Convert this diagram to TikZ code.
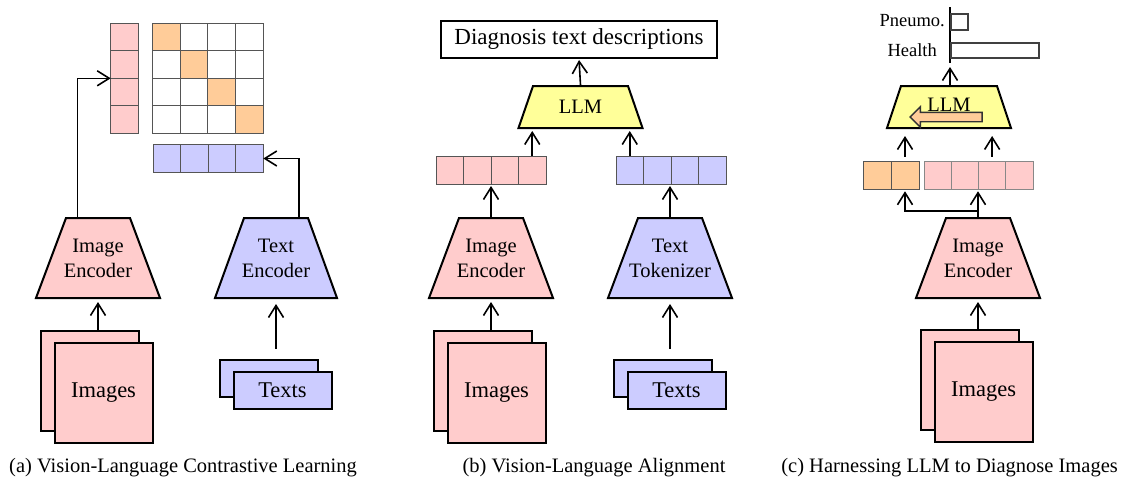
\documentclass[tikz,border=0pt]{standalone}
\usepackage{fontspec}
\setmainfont{Liberation Serif}
\usetikzlibrary{shapes.arrows,arrows.meta,calc}
\definecolor{pinkf}{HTML}{FFCCCC}
\definecolor{bluef}{HTML}{CCCCFF}
\definecolor{yellowf}{HTML}{FFFF99}
\definecolor{orangef}{HTML}{FFCC99}
\definecolor{cellline}{HTML}{555555}
% #1 name, #2 centre, #3 fill, #4 bottom width, #5 top width, #6 height, #7 font, #8 text
\newcommand\trapnode[8]{%
  \path #2 coordinate (#1-c);
  \draw[trapline, fill=#3] ($(#1-c)+(-#4/2,#6/2)$) -- ($(#1-c)+(-#5/2,-#6/2)$) -- ($(#1-c)+(#5/2,-#6/2)$) -- ($(#1-c)+(#4/2,#6/2)$) -- cycle;
  \node[align=center, minimum width=#5, minimum height=#6, inner sep=0pt, outer sep=1pt, font=#7] (#1) at (#1-c) {#8};
}
\begin{document}
\begin{tikzpicture}[x=1pt,y=-1pt,
  arr/.style={-{Straight Barb[length=12pt,width=15pt,line width=1.6pt]}, line width=1.6pt},
  trapline/.style={draw=black, line width=2pt, line join=miter},
  imgbox/.style={draw=black, line width=2pt, fill=pinkf, minimum width=98, minimum height=100, inner sep=0pt, font=\fontsize{22.5}{26}\selectfont},
  txtbox/.style={draw=black, line width=2pt, fill=bluef, minimum width=98, minimum height=37, inner sep=0pt, font=\fontsize{22.5}{26}\selectfont},
  cell/.style={draw=cellline, line width=1pt, minimum width=27.5, minimum height=27.5, inner sep=0pt, outer sep=0pt},
  bar/.style={draw=black!75, line width=1.5pt, fill=white, inner sep=0pt, anchor=west},
  caption/.style={font=\fontsize{20.5}{24}\selectfont, inner sep=0pt},
  lab/.style={font=\fontsize{18.5}{22}\selectfont, inner sep=0pt, anchor=east}
]
\useasboundingbox (0,0) rectangle (1121,479);
\def\encfont{\fontsize{20.5}{25}\selectfont}
\def\llmfont{\fontsize{20.5}{24}\selectfont}

% ---------------- panel (a) ----------------
\foreach \i in {1,...,4}{
  \node[cell, fill=pinkf, minimum width=27.6] (pa\i) at (124.5, {23.3+27.5*(\i-0.5)}) {};
}
\foreach \r in {1,...,4}{
  \foreach \c in {1,...,4}{
    \ifnum\r=\c\def\fc{orangef}\else\def\fc{white}\fi
    \node[cell, fill=\fc, minimum width=27.75] (m\r\c) at ({152.3+27.75*(\c-0.5)}, {23.3+27.5*(\r-0.5)}) {};
  }
}
\foreach \i in {1,...,4}{
  \node[cell, fill=bluef, minimum height=28.4] (ba\i) at ({153.3+27.5*(\i-0.5)}, 158.5) {};
}
\trapnode{ienca}{(98,258)}{pinkf}{124}{64}{80}{\encfont}{Image\\Encoder}
\trapnode{tenca}{(276,258)}{bluef}{122}{64}{80}{\encfont}{Text\\Encoder}
\node[imgbox] (imgaback) at (89.5,380.5) {};
\node[imgbox] (imga) at (103.5,392.5) {Images};
\node[txtbox] (txtaback) at (268.5,378) {};
\node[txtbox] (txta) at (282.5,390) {Texts};
\draw[arr] ($(ienca.north)+(-20.5,0)$) |- (pa2.south west);
\draw[arr] ($(tenca.north)+(23,0)$) |- (ba4.east);
\draw[arr, shorten >=3pt] (ienca.south |- imgaback.north) -- (ienca.south);
\draw[arr, shorten <=10pt, shorten >=5pt] (tenca.south |- txtaback.north) -- (tenca.south);

% ---------------- panel (b) ----------------
\node[draw=black, line width=2pt, minimum width=276, minimum height=37, inner sep=0pt, font=\fontsize{23}{27}\selectfont] (diag) at (579,39.5) {Diagnosis text descriptions};
\trapnode{llmb}{(580.5,107)}{yellowf}{124}{95}{42}{\llmfont}{LLM}
\foreach \i in {1,...,4}{
  \node[cell, fill=pinkf, minimum height=28] (pb\i) at ({436+27.5*(\i-0.5)}, 170) {};
  \node[cell, fill=bluef, minimum height=28] (bb\i) at ({616+27.5*(\i-0.5)}, 170) {};
}
\trapnode{iencb}{(491,258)}{pinkf}{124}{64}{80}{\encfont}{Image\\Encoder}
\trapnode{ttokb}{(670,258)}{bluef}{124}{64}{80}{\encfont}{Text\\Tokenizer}
\node[imgbox] (imgbback) at (482.5,380.5) {};
\node[imgbox] (imgb) at (496.5,392.5) {Images};
\node[txtbox] (txtbback) at (662.5,378) {};
\node[txtbox] (txtb) at (676.5,390) {Texts};
\draw[arr, shorten >=1pt] (llmb.north) -- (diag.south);
\draw[arr, shorten >=2pt] (pb4.north) -- (pb4.north |- llmb.south);
\draw[arr, shorten >=2pt] (bb1.north) -- (bb1.north |- llmb.south);
\draw[arr, shorten >=2pt] (iencb.north) -- (iencb.north |- pb2.south);
\draw[arr, shorten >=2pt] (ttokb.north) -- (ttokb.north |- bb2.south);
\draw[arr, shorten >=3pt] (iencb.south |- imgbback.north) -- (iencb.south);
\draw[arr, shorten <=10pt, shorten >=5pt] (ttokb.south |- txtbback.north) -- (ttokb.south);

% ---------------- panel (c) ----------------
\coordinate (axtop) at (950,7);
\coordinate (axbot) at (950,63);
\draw[line width=2pt] (axtop) -- (axbot);
\node[bar, minimum width=17, minimum height=16] (pbar) at (950,22) {};
\node[bar, minimum width=88, minimum height=15] (hbar) at (950,50.5) {};
\node[lab] (plab) at (945,21) {Pneumo.};
\node[lab] (hlab) at (937,50) {Health};
\trapnode{llmc}{(949,107)}{yellowf}{124}{96}{42}{\llmfont}{\raisebox{5pt}{LLM}}
\node[single arrow, shape border rotate=180, fill=orangef, draw=black!80, line width=1.4pt, minimum height=72, inner sep=4pt, single arrow head extend=5.5pt] (oarr) at (948.5,117) {};
\draw[arr, shorten >=4pt] (axbot |- llmc.north) -- (axbot);
\foreach \i in {1,2}{
  \node[cell, fill=orangef, minimum width=28] (oc\i) at ({863+28*(\i-0.5)}, 175.5) {};
}
\foreach \i in {1,...,4}{
  \node[cell, fill=pinkf, draw=cellline!70, minimum width=27.25] (pc\i) at ({924+27.25*(\i-0.5)}, 175.5) {};
}
\trapnode{iencc}{(978,258)}{pinkf}{124}{64}{80}{\encfont}{Image\\Encoder}
\node[imgbox] (imgcback) at (969.5,380) {};
\node[imgbox] (imgc) at (983.5,392) {Images};
\draw[arr, shorten <=5pt, shorten >=7pt] (oc2.north) -- (oc2.north |- llmc.south);
\draw[arr, shorten <=5pt, shorten >=7pt] (pc3.north) -- (pc3.north |- llmc.south);
\draw[arr, shorten >=2pt] (iencc.north) -- (iencc.north |- pc2.south);
\draw[arr, shorten >=2pt] ($(iencc.north)+(0,-6)$) -| (oc2.south);
\draw[arr, shorten >=3pt] (iencc.south |- imgcback.north) -- (iencc.south);

% ---------------- captions ----------------
\node[caption, anchor=base west] (capa) at (9,472) {(a) Vision-Language Contrastive Learning};
\node[caption, anchor=base] (capb) at (594,472) {(b) Vision-Language Alignment};
\node[caption, anchor=base east] (capc) at (1118,472) {(c) Harnessing LLM to Diagnose Images};
\end{tikzpicture}
\end{document}
